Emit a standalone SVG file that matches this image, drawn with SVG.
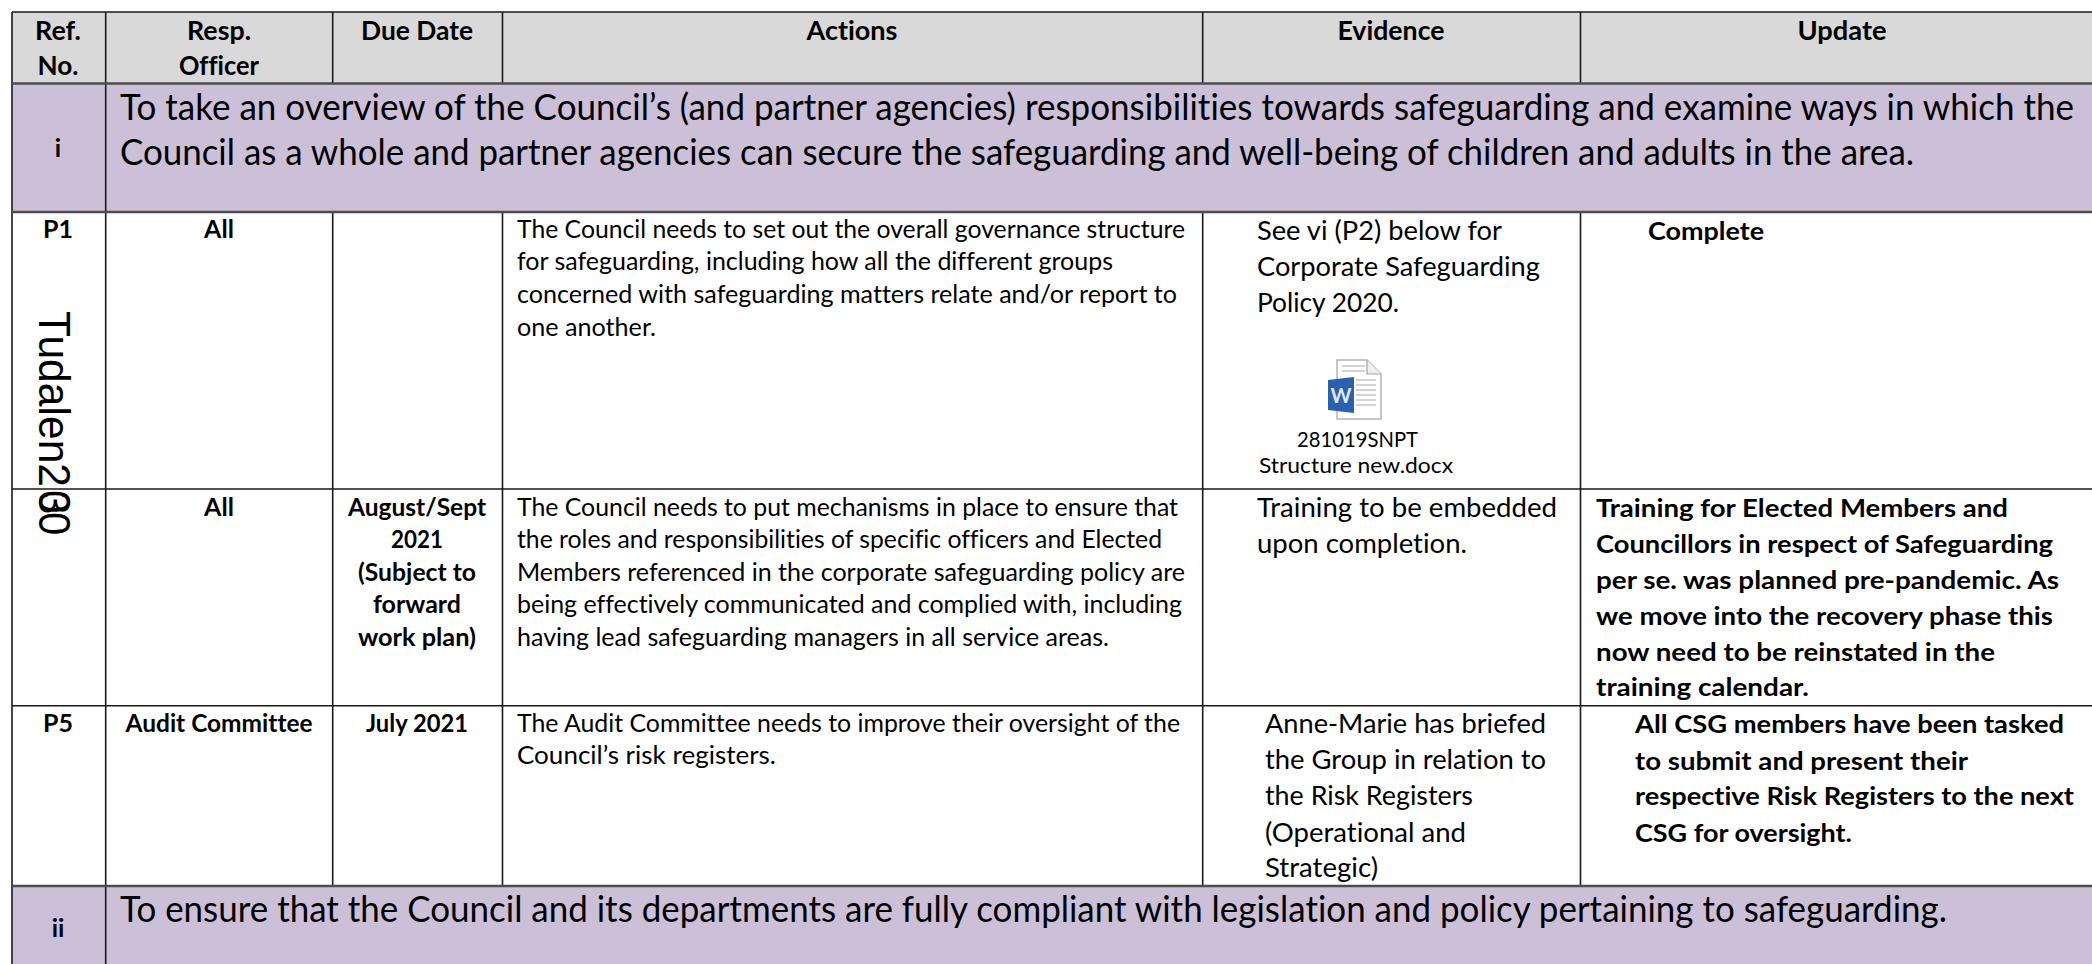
<svg xmlns="http://www.w3.org/2000/svg" width="2092" height="964" viewBox="0 0 2092 964">
<style>
text{font-family:"Lato","Carlito","Open Sans",sans-serif;fill:#000;white-space:pre;font-variant-ligatures:none}
.h{font-weight:700;font-size:27px;text-anchor:middle}
.b{font-weight:700;font-size:25px}
.c{font-weight:700;font-size:25px;text-anchor:middle}
.a{font-size:24.5px}
.e{font-size:27.5px}
.s{font-size:36px}
.m{font-weight:700;font-size:25px;text-anchor:middle}
.cap{font-size:22px}
.t{font-family:"Liberation Sans",Arial,sans-serif;font-size:45px}
.grid{stroke:#1a1a1a;stroke-width:1.6;fill:none}
.sep{stroke:#4d4d4d;stroke-width:2.4;fill:none}
</style>
<rect width="2092" height="964" fill="#fff"/>
<g id="header">
<rect x="12" y="12" width="2080" height="72" fill="#d9d9d9"/>
<text class="h" x="58" y="39.5" textLength="46" lengthAdjust="spacingAndGlyphs">Ref.</text>
<text class="h" x="58" y="75" textLength="41" lengthAdjust="spacingAndGlyphs">No.</text>
<text class="h" x="219" y="39.5" textLength="64" lengthAdjust="spacingAndGlyphs">Resp.</text>
<text class="h" x="219" y="75" textLength="80" lengthAdjust="spacingAndGlyphs">Officer</text>
<text class="h" x="417" y="39.5" textLength="112" lengthAdjust="spacingAndGlyphs">Due Date</text>
<text class="h" x="852" y="39.5" textLength="91" lengthAdjust="spacingAndGlyphs">Actions</text>
<text class="h" x="1391" y="39.5" textLength="107" lengthAdjust="spacingAndGlyphs">Evidence</text>
<text class="h" x="1842" y="39.5" textLength="89" lengthAdjust="spacingAndGlyphs">Update</text>
</g>
<g id="section-i">
<rect x="12" y="84" width="2080" height="128" fill="#ccc0d9"/>
<text class="c" x="58" y="157">i</text>
<text class="s" x="120" y="120" textLength="1954" lengthAdjust="spacingAndGlyphs">To take an overview of the Council’s (and partner agencies) responsibilities towards safeguarding and examine ways in which the</text>
<text class="s" x="120" y="165" textLength="1794" lengthAdjust="spacingAndGlyphs">Council as a whole and partner agencies can secure the safeguarding and well-being of children and adults in the area.</text>
</g>
<g id="row-p1">
<text class="c" x="58" y="238">P1</text>
<text class="c" x="219" y="238">All</text>
<text class="a" x="517" y="238" textLength="668" lengthAdjust="spacingAndGlyphs">The Council needs to set out the overall governance structure</text>
<text class="a" x="517" y="270" textLength="596" lengthAdjust="spacingAndGlyphs">for safeguarding, including how all the different groups</text>
<text class="a" x="517" y="303" textLength="660" lengthAdjust="spacingAndGlyphs">concerned with safeguarding matters relate and/or report to</text>
<text class="a" x="517" y="335.5" textLength="139" lengthAdjust="spacingAndGlyphs">one another.</text>
<text class="e" x="1257" y="240" textLength="245" lengthAdjust="spacingAndGlyphs">See vi (P2) below for</text>
<text class="e" x="1257" y="276" textLength="283" lengthAdjust="spacingAndGlyphs">Corporate Safeguarding</text>
<text class="e" x="1257" y="312" textLength="142" lengthAdjust="spacingAndGlyphs">Policy 2020.</text>
<g id="word-icon">
<path d="M1337 360H1367L1381 374V419H1337Z" fill="#fff" stroke="#b4b4b4" stroke-width="1.5"/>
<path d="M1367 360V374H1381" fill="#f0f0f0" stroke="#a0a0a0" stroke-width="1.2"/>
<path d="M1342 366H1365M1342 371H1365M1356 380H1376M1356 385H1376M1356 390H1376M1356 395H1376M1356 400H1376M1356 405H1376" stroke="#a8a8a8" stroke-width="1.2" fill="none"/>
<path d="M1328 380L1354 377V413L1328 410Z" fill="#2b5fb0"/>
<text x="1341" y="403" text-anchor="middle" style="font-size:20px;font-weight:700;fill:#dfe8f6">W</text>
</g>
<text class="cap" x="1297" y="447" textLength="121" lengthAdjust="spacingAndGlyphs">281019SNPT</text>
<text class="cap" x="1259" y="473" textLength="194" lengthAdjust="spacingAndGlyphs">Structure new.docx</text>
<text class="b" x="1648" y="240" textLength="116" lengthAdjust="spacingAndGlyphs">Complete</text>
</g>
<g id="row-all">
<text class="c" x="219" y="516">All</text>
<text class="m" x="417" y="516" textLength="138" lengthAdjust="spacingAndGlyphs">August/Sept</text>
<text class="m" x="417" y="548" textLength="52" lengthAdjust="spacingAndGlyphs">2021</text>
<text class="m" x="417" y="581" textLength="118" lengthAdjust="spacingAndGlyphs">(Subject to</text>
<text class="m" x="417" y="613" textLength="88" lengthAdjust="spacingAndGlyphs">forward</text>
<text class="m" x="417" y="646" textLength="118" lengthAdjust="spacingAndGlyphs">work plan)</text>
<text class="a" x="517" y="516" textLength="661" lengthAdjust="spacingAndGlyphs">The Council needs to put mechanisms in place to ensure that</text>
<text class="a" x="517" y="548" textLength="645" lengthAdjust="spacingAndGlyphs">the roles and responsibilities of specific officers and Elected</text>
<text class="a" x="517" y="581" textLength="668" lengthAdjust="spacingAndGlyphs">Members referenced in the corporate safeguarding policy are</text>
<text class="a" x="517" y="613" textLength="665" lengthAdjust="spacingAndGlyphs">being effectively communicated and complied with, including</text>
<text class="a" x="517" y="646" textLength="592" lengthAdjust="spacingAndGlyphs">having lead safeguarding managers in all service areas.</text>
<text class="e" x="1257" y="517" textLength="300" lengthAdjust="spacingAndGlyphs">Training to be embedded</text>
<text class="e" x="1257" y="553" textLength="210" lengthAdjust="spacingAndGlyphs">upon completion.</text>
<text class="b" x="1596" y="517" textLength="412" lengthAdjust="spacingAndGlyphs">Training for Elected Members and</text>
<text class="b" x="1596" y="553" textLength="457" lengthAdjust="spacingAndGlyphs">Councillors in respect of Safeguarding</text>
<text class="b" x="1596" y="589" textLength="463" lengthAdjust="spacingAndGlyphs">per se. was planned pre-pandemic. As</text>
<text class="b" x="1596" y="625" textLength="457" lengthAdjust="spacingAndGlyphs">we move into the recovery phase this</text>
<text class="b" x="1596" y="661" textLength="399" lengthAdjust="spacingAndGlyphs">now need to be reinstated in the</text>
<text class="b" x="1596" y="696" textLength="213" lengthAdjust="spacingAndGlyphs">training calendar.</text>
</g>
<g id="row-p5">
<text class="c" x="58" y="732">P5</text>
<text class="c" x="219" y="732" textLength="187" lengthAdjust="spacingAndGlyphs">Audit Committee</text>
<text class="c" x="417" y="732" textLength="102" lengthAdjust="spacingAndGlyphs">July 2021</text>
<text class="a" x="517" y="732" textLength="663" lengthAdjust="spacingAndGlyphs">The Audit Committee needs to improve their oversight of the</text>
<text class="a" x="517" y="764" textLength="259" lengthAdjust="spacingAndGlyphs">Council’s risk registers.</text>
<text class="e" x="1265" y="733" textLength="281" lengthAdjust="spacingAndGlyphs">Anne-Marie has briefed</text>
<text class="e" x="1265" y="769" textLength="281" lengthAdjust="spacingAndGlyphs">the Group in relation to</text>
<text class="e" x="1265" y="805" textLength="208" lengthAdjust="spacingAndGlyphs">the Risk Registers</text>
<text class="e" x="1265" y="842" textLength="201" lengthAdjust="spacingAndGlyphs">(Operational and</text>
<text class="e" x="1265" y="877" textLength="113" lengthAdjust="spacingAndGlyphs">Strategic)</text>
<text class="b" x="1635" y="733" textLength="429" lengthAdjust="spacingAndGlyphs">All CSG members have been tasked</text>
<text class="b" x="1635" y="770" textLength="333" lengthAdjust="spacingAndGlyphs">to submit and present their</text>
<text class="b" x="1635" y="805" textLength="439" lengthAdjust="spacingAndGlyphs">respective Risk Registers to the next</text>
<text class="b" x="1635" y="842" textLength="217" lengthAdjust="spacingAndGlyphs">CSG for oversight.</text>
</g>
<g id="section-ii">
<rect x="12" y="886" width="2080" height="78" fill="#ccc0d9"/>
<text class="c" x="58" y="937">ii</text>
<text class="s" x="120" y="921.5" textLength="1827" lengthAdjust="spacingAndGlyphs">To ensure that the Council and its departments are fully compliant with legislation and policy pertaining to safeguarding.</text>
</g>
<g id="connectors">
<path class="grid" d="M105.7 12V964M12 12V964M12 12H2092"/>
<path class="grid" d="M332.7 12V84M332.7 212V886M502.5 12V84M502.5 212V886M1202.7 12V84M1202.7 212V886M1580.5 12V84M1580.5 212V886"/>
<path class="grid" d="M12 489H2092M12 705.7H2092"/>
<path class="sep" d="M12 83.5H2092M12 212H2092M12 886H2092"/>
</g>
<g id="rotated-label">
<text class="t" transform="translate(39 311) rotate(90)" textLength="176" lengthAdjust="spacingAndGlyphs">Tudalen2</text>
<text class="t" transform="translate(39 490) rotate(90) scale(.93 1)">0</text>
<text class="t" transform="translate(39 491) rotate(90) scale(.93 1)">3</text>
<text class="t" transform="translate(39 512) rotate(90) scale(.93 1)">0</text>
</g>
</svg>
